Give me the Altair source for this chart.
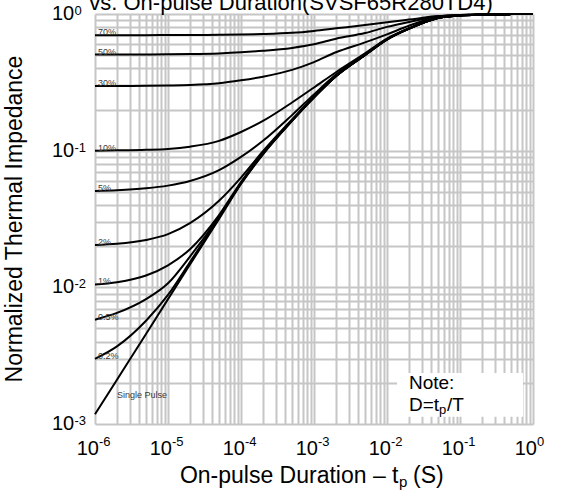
import altair as alt
import pandas as pd

# Pulse durations (s) at which each curve is sampled
pulse_width = [1e-6, 2e-6, 5e-6, 1e-5, 2e-5, 5e-5, 1e-4, 2e-4, 5e-4, 1e-3,
               2e-3, 5e-3, 1e-2, 2e-2, 5e-2, 1e-1, 2e-1, 5e-1, 1.0]

# Normalized transient thermal impedance for each duty cycle D
z_70 = [0.700, 0.700, 0.700, 0.701, 0.702, 0.704, 0.707, 0.713, 0.728, 0.752,
        0.785, 0.830, 0.870, 0.910, 0.965, 0.985, 0.994, 0.998, 1.0]
z_50 = [0.505, 0.505, 0.506, 0.507, 0.509, 0.515, 0.524, 0.538, 0.565, 0.600,
        0.660, 0.725, 0.805, 0.875, 0.960, 0.982, 0.993, 0.998, 1.0]
z_30 = [0.297, 0.2975, 0.298, 0.2995, 0.302, 0.311, 0.327, 0.348, 0.390, 0.445,
        0.525, 0.620, 0.710, 0.820, 0.955, 0.980, 0.992, 0.998, 1.0]
z_10 = [0.100, 0.1005, 0.1015, 0.103, 0.107, 0.118, 0.137, 0.165, 0.225, 0.290,
        0.375, 0.515, 0.660, 0.786, 0.938, 0.977, 0.9905, 0.998, 1.0]
z_5 = [0.0507, 0.0513, 0.0530, 0.0555, 0.0600, 0.0720, 0.0900, 0.118, 0.182, 0.258,
       0.360, 0.508, 0.656, 0.784, 0.937, 0.976, 0.9902, 0.998, 1.0]
z_2 = [0.0204, 0.0208, 0.0222, 0.0245, 0.0295, 0.0430, 0.0635, 0.099, 0.169, 0.248,
       0.353, 0.503, 0.653, 0.782, 0.936, 0.9755, 0.9901, 0.998, 1.0]
z_1 = [0.0105, 0.0109, 0.0122, 0.0145, 0.0190, 0.0338, 0.0590, 0.0958, 0.1668, 0.2467,
       0.3515, 0.5015, 0.6515, 0.781, 0.9357, 0.9752, 0.990, 0.998, 1.0]
z_05 = [0.0058, 0.0065, 0.0082, 0.0107, 0.0168, 0.0328, 0.0582, 0.0950, 0.166, 0.246,
        0.351, 0.501, 0.651, 0.781, 0.9353, 0.9751, 0.990, 0.998, 1.0]
z_02 = [0.0030, 0.0037, 0.0057, 0.0088, 0.0153, 0.0323, 0.0576, 0.0945, 0.1655, 0.2455,
        0.3505, 0.5005, 0.6505, 0.7803, 0.9351, 0.975, 0.990, 0.998, 1.0]
z_single = [0.00118, 0.00211, 0.00455, 0.0082, 0.0147, 0.0316, 0.057, 0.094, 0.165, 0.245,
            0.350, 0.500, 0.650, 0.780, 0.935, 0.975, 0.990, 0.998, 1.0]

duty_names = ["70%", "50%", "30%", "10%", "5%", "2%", "1%", "0.5%", "0.2%", "Single Pulse"]
duty_series = [z_70, z_50, z_30, z_10, z_5, z_2, z_1, z_05, z_02, z_single]

x_tick_values = [1e-6, 1e-5, 1e-4, 1e-3, 1e-2, 1e-1, 1.0]
x_tick_exps = ["-6", "-5", "-4", "-3", "-2", "-1", "0"]
y_tick_values = [1e-3, 1e-2, 1e-1, 1.0]
y_tick_exps = ["-3", "-2", "-1", "0"]

FONT = "Liberation Sans"
W, H = 438, 410
NB = "\u00a0"

rows = []
for name, zs in zip(duty_names, duty_series):
    for t, z in zip(pulse_width, zs):
        rows.append({"curve": name, "t": t, "z": z})
curves = pd.DataFrame(rows)

xscale = alt.Scale(type="log", domain=[1e-6, 1])
yscale = alt.Scale(type="log", domain=[1e-3, 1])

grid_x = [m * 10.0 ** e for e in range(-6, 0) for m in range(1, 10)] + [1.0]
grid_y = [m * 10.0 ** e for e in range(-3, 0) for m in range(1, 10)] + [1.0]

axis_common = dict(grid=True, gridColor="#c6c6c6", gridWidth=2, labels=False,
                   ticks=False, domain=False, title=None)
X = alt.X("t:Q", scale=xscale, axis=alt.Axis(values=grid_x, **axis_common))
Y = alt.Y("z:Q", scale=yscale, axis=alt.Axis(values=grid_y, **axis_common))

lines = alt.Chart(curves).mark_line(
    color="black", strokeWidth=2, interpolate="monotone"
).encode(x=X, y=Y, detail="curve:N")

# duty-cycle labels sit on the left end of each curve
first_pts = curves[(curves.t == pulse_width[0]) & (curves.curve != "Single Pulse")]
duty_text = alt.Chart(first_pts).mark_text(
    align="left", baseline="alphabetic", dx=3, dy=0, fontSize=9, font=FONT, color="#3a3a3a"
).encode(x="t:Q", y="z:Q", text="curve:N")

single_df = pd.DataFrame({"t": [2.0e-6], "z": [1.63e-3], "label": ["Single Pulse"]})
single_text = alt.Chart(single_df).mark_text(
    align="left", baseline="middle", fontSize=9, font=FONT, color="#3a3a3a"
).encode(x="t:Q", y="z:Q", text="label:N")

# note box
note_box_df = pd.DataFrame({"t": [0.0137], "t2": [0.73], "z": [1.13e-3], "z2": [2.36e-3]})
note_box = alt.Chart(note_box_df).mark_rect(color="white").encode(
    x="t:Q", x2="t2:Q", y="z:Q", y2="z2:Q")

note_df = pd.DataFrame({"t": [0.02], "z": [2.0e-3], "label": ["Note:"]})
note_text = alt.Chart(note_df).mark_text(
    align="left", baseline="middle", fontSize=19, font=FONT, color="black"
).encode(x="t:Q", y="z:Q", text="label:N")

formula_df = pd.DataFrame({"t": [0.02], "z": [1.38e-3]})
f_main = alt.Chart(formula_df).mark_text(
    align="left", baseline="middle", fontSize=19, font=FONT, color="black", text="D=t"
).encode(x="t:Q", y="z:Q")
f_sub = alt.Chart(formula_df).mark_text(
    align="left", baseline="middle", fontSize=13, font=FONT, color="black", text="p",
    dx=30, dy=5
).encode(x="t:Q", y="z:Q")
f_tail = alt.Chart(formula_df).mark_text(
    align="left", baseline="middle", fontSize=19, font=FONT, color="black", text="/T",
    dx=38
).encode(x="t:Q", y="z:Q")

# power-of-ten tick labels
xt = pd.DataFrame({"t": x_tick_values, "exp": x_tick_exps})
x_base = alt.Chart(xt).mark_text(
    align="right", baseline="alphabetic", fontSize=20, font=FONT, color="black", text="10", dx=4
).encode(x="t:Q", y=alt.value(H + 31))
x_sup = alt.Chart(xt).mark_text(
    align="left", baseline="alphabetic", fontSize=13, font=FONT, color="black", dx=4
).encode(x="t:Q", y=alt.value(H + 22), text="exp:N")

yt = pd.DataFrame({"z": y_tick_values, "exp": y_tick_exps})
y_base = alt.Chart(yt).mark_text(
    align="left", baseline="middle", fontSize=20, font=FONT, color="black", text="10"
).encode(y="z:Q", x=alt.value(-43))
y_sup = alt.Chart(yt).mark_text(
    align="left", baseline="alphabetic", fontSize=13, font=FONT, color="black", dy=1
).encode(y="z:Q", x=alt.value(-20.5), text="exp:N")

# titles
title_df = pd.DataFrame({"label": ["vs. On-pulse Duration(SVSF65R280TD4)"]})
title = alt.Chart(title_df).mark_text(
    align="center", baseline="alphabetic", fontSize=22, font=FONT, color="black"
).encode(x=alt.value(196), y=alt.value(-4), text="label:N")

xt_df = pd.DataFrame({"a": ["On-pulse Duration" + NB + "\u2013" + NB + "t"],
                      "b": ["p"], "c": ["(S)"]})
xtitle_a = alt.Chart(xt_df).mark_text(
    align="right", baseline="alphabetic", fontSize=23, font=FONT, color="black"
).encode(x=alt.value(303.5), y=alt.value(H + 59), text="a:N")
xtitle_b = alt.Chart(xt_df).mark_text(
    align="left", baseline="alphabetic", fontSize=15, font=FONT, color="black"
).encode(x=alt.value(304), y=alt.value(H + 63), text="b:N")
xtitle_c = alt.Chart(xt_df).mark_text(
    align="left", baseline="alphabetic", fontSize=23, font=FONT, color="black"
).encode(x=alt.value(318), y=alt.value(H + 59), text="c:N")

ytitle_df = pd.DataFrame({"label": ["Normalized Thermal Impedance"]})
ytitle = alt.Chart(ytitle_df).mark_text(
    align="center", baseline="middle", fontSize=23, font=FONT, color="black", angle=270
).encode(x=alt.value(-80), y=alt.value(205), text="label:N")

chart = alt.layer(
    lines, note_box, duty_text, single_text, note_text, f_main, f_sub, f_tail,
    x_base, x_sup, y_base, y_sup, title, xtitle_a, xtitle_b, xtitle_c, ytitle
).properties(
    width=W, height=H,
    autosize=alt.AutoSizeParams(type="none"),
    padding={"left": 95, "top": 14, "right": 28, "bottom": 69},
    background="white",
).configure_view(stroke=None)

chart.save("out.html", embed_options={"renderer": "svg", "actions": False})
